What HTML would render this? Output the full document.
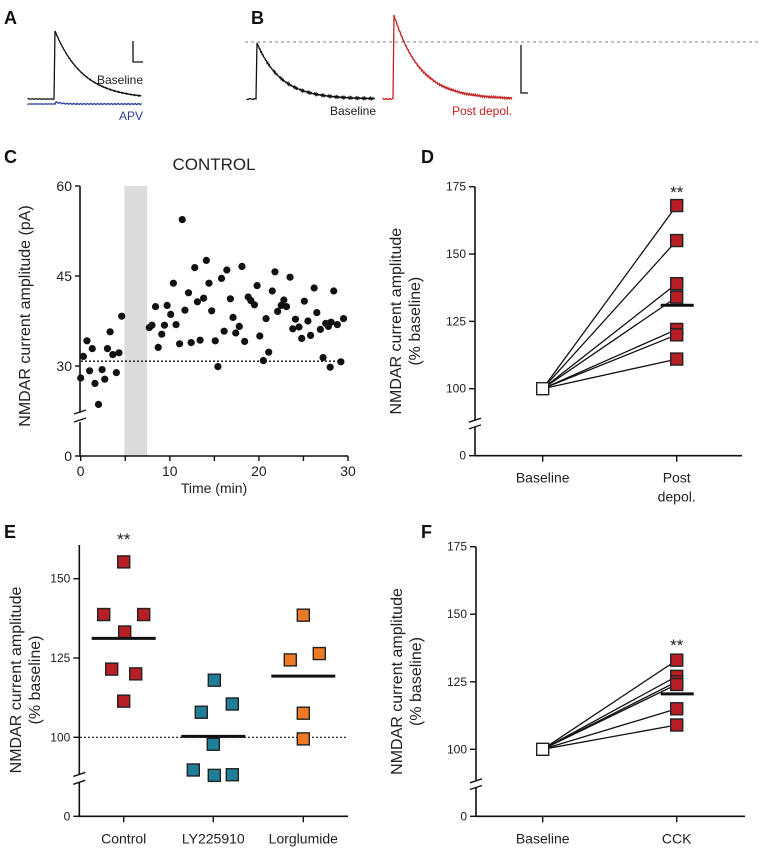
<!DOCTYPE html>
<html><head><meta charset="utf-8"><style>
body{margin:0;background:#fff;}
svg{display:block;font-family:"Liberation Sans",sans-serif;}
</style></head><body>
<svg id="fig" width="761" height="853" viewBox="0 0 761 853">
<g font-weight="bold" font-size="18" fill="#111">
<text x="4" y="24">A</text>
<text x="251" y="24">B</text>
<text x="4" y="163">C</text>
<text x="421" y="163">D</text>
<text x="4" y="538">E</text>
<text x="421" y="538">F</text>
</g>
<g id="traces"></g>
<g id="pc"></g>
<g id="pd"></g>
<g id="pe"></g>
<g id="pf"></g>
</svg>
<script>
// Panel C data
const cTimes=[0.0,0.3,0.7,1.0,1.3,1.6,2.0,2.4,2.7,3.0,3.3,3.6,4.0,4.3,4.6,7.7,8.0,8.4,8.7,9.1,9.4,9.7,10.1,10.4,10.7,11.1,11.4,11.7,12.1,12.4,12.8,13.1,13.4,13.8,14.1,14.4,14.7,15.1,15.4,15.8,16.1,16.4,16.8,17.1,17.4,17.8,18.1,18.4,18.8,19.1,19.5,19.8,20.1,20.5,20.8,21.1,21.5,21.8,22.1,22.5,22.8,23.1,23.5,23.8,24.1,24.5,24.8,25.1,25.5,25.8,26.2,26.5,26.9,27.2,27.5,27.8,28.0,28.1,28.4,28.8,29.2,29.5];
const cValues=[28.0,31.6,34.2,29.2,32.9,27.1,23.6,29.4,27.8,32.9,35.7,31.9,28.9,32.2,38.3,36.4,36.8,39.9,33.1,35.3,36.8,40.1,38.6,43.8,36.9,33.7,54.4,39.3,42.2,33.9,46.4,40.7,34.3,41.3,47.6,43.8,39.2,34.2,29.9,44.6,35.8,46.0,41.2,38.1,35.5,36.6,46.6,34.1,41.5,40.9,40.2,43.4,35.0,30.9,37.9,32.3,42.5,45.7,39.1,40.1,41.0,39.9,44.8,36.2,37.8,36.5,34.6,40.8,37.5,35.1,43.0,38.9,36.1,31.4,37.1,36.6,29.8,37.3,42.5,36.9,30.7,37.9];
const cBaseline=[30.8];
const cYTicks=[0,30,45,60];
const cXTicks=[0,5,10,15,20,25,30];
const cXLabels=[0,10,20,30];
// Panel D data
const dBaseline=[100];
const dPost=[168,155,139,134,122,120,111];
const dMean=[131];
// Panel E data
const eCategories=["Control","LY225910","Lorglumide"];
const eControl=[155.3,138.7,138.7,133.2,121.5,120,111.4];
const eLY=[118,107.9,110.5,97.8,89.7,88,88.2];
const eLorg=[138.5,124.4,126.4,107.6,99.5];
const eMeans=[131.2,100.3,119.3];
const eTicks=[0,100,125,150];
// Panel F data
const fBaseline=[100];
const fCCK=[133,127,125,124,115,109];
const fMean=[120.5];
const pctTicks=[0,100,125,150,175];

const NS="http://www.w3.org/2000/svg";
function mk(parent,tag,attrs,txt){const e=document.createElementNS(NS,tag);for(const k in attrs)e.setAttribute(k,attrs[k]);if(txt!==undefined)e.textContent=txt;parent.appendChild(e);return e;}
let p;

// ---------- traces ----------
const tr=document.getElementById('traces');
function tracePath(x0,xr,x1,yb,yp,tau,noise,seed){
 let d=`M${x0},${yb}`;
 for(let x=x0;x<xr;x+=1){d+=` L${x},${(yb+Math.sin(x*seed)*noise*0.5).toFixed(1)}`;}
 d+=` L${xr},${yp}`;
 for(let x=xr+1;x<=x1;x+=0.7){const t=x-xr;const y=yb-(yb-yp)*Math.exp(-t/tau)+Math.sin(x*seed*3.1)*noise;d+=` L${x.toFixed(1)},${y.toFixed(1)}`;}
 return d;
}
p=mk(tr,'path',{d:tracePath(28,55,142,99,31,28,0.4,1.7),fill:'none',stroke:'#111','stroke-width':1.3});

p=mk(tr,'path',{d:tracePath(28,56,142,104,102,6,0.5,2.3),fill:'none',stroke:'#2b3fa0','stroke-width':1.3});

p=mk(tr,'path',{d:'M133,41 V62 H143',fill:'none',stroke:'#111','stroke-width':1.3});

p=mk(tr,'text',{x:143,y:84,'text-anchor':'end','font-size':12,fill:'#222'},'Baseline');

p=mk(tr,'text',{x:143,y:120,'text-anchor':'end','font-size':12,fill:'#2b3fa0'},'APV');

p=mk(tr,'line',{x1:245,y1:42,x2:760,y2:42,stroke:'#999','stroke-width':1.3,'stroke-dasharray':'3,3'});

p=mk(tr,'path',{d:tracePath(247,257,375,99,43,24,0.9,1.3),fill:'none',stroke:'#111','stroke-width':1.3});

p=mk(tr,'path',{d:tracePath(383,394,512,99,15,26,0.9,1.9),fill:'none',stroke:'#c0221f','stroke-width':1.3});

p=mk(tr,'path',{d:'M521,45 V93 H528',fill:'none',stroke:'#111','stroke-width':1.3});

p=mk(tr,'text',{x:376,y:115,'text-anchor':'end','font-size':12,fill:'#222'},'Baseline');

p=mk(tr,'text',{x:512,y:115,'text-anchor':'end','font-size':12,fill:'#c0221f'},'Post depol.');


// ---------- Panel C ----------
const pc=document.getElementById('pc');
const cx=t=>80.7+t*8.91;
function cyf(v){return v===0?456:366-(v-30)*6;}
p=mk(pc,'rect',{x:cx(4.9),y:186,width:cx(7.45)-cx(4.9),height:270,fill:'#dcdcdc'});

p=mk(pc,'path',{d:'M80,186 V413 M80,422 V456 H348',fill:'none',stroke:'#111','stroke-width':1.6});

p=mk(pc,'path',{d:'M74,414 L86,410 M74,422 L86,418',stroke:'#111','stroke-width':1.4});

cYTicks.forEach(v=>{const y=cyf(v);
 p=mk(pc,'line',{x1:75,y1:y,x2:80,y2:y,stroke:'#111','stroke-width':1.4});
 
 p=mk(pc,'text',{x:72,y:y+5,'text-anchor':'end','font-size':14,fill:'#222'},v);
 });
cXTicks.forEach(v=>{p=mk(pc,'line',{x1:cx(v),y1:456,x2:cx(v),y2:461,stroke:'#111','stroke-width':1.4});
 });
cXLabels.forEach(v=>{p=mk(pc,'text',{x:cx(v),y:476,'text-anchor':'middle','font-size':14,fill:'#222'},v);
 });
p=mk(pc,'text',{x:214,y:493,'text-anchor':'middle','font-size':14,fill:'#222'},'Time (min)');

p=mk(pc,'text',{x:214,y:170,'text-anchor':'middle','font-size':17,fill:'#222'},'CONTROL');

p=mk(pc,'text',{x:0,y:0,'text-anchor':'middle','font-size':16,fill:'#222',transform:'translate(30,316) rotate(-90)'},'NMDAR current amplitude (pA)');

p=mk(pc,'line',{x1:81,y1:cyf(cBaseline[0]),x2:345,y2:cyf(cBaseline[0]),stroke:'#111','stroke-width':1.3,'stroke-dasharray':'2,2'});

cTimes.forEach((t,i)=>{p=mk(pc,'circle',{cx:cx(t),cy:cyf(cValues[i]),r:3.6,fill:'#111'});
 });

// ---------- shared percent axis ----------
function pctAxis(g,ax,y0,y100,s,axTop,xEnd,pre){
 const y=v=>v===0?y0:y100-(v-100)*s;
 const b1=y100+(y0-y100)*0.47,b2=y100+(y0-y100)*0.57;
 p=mk(g,'path',{d:`M${ax},${axTop} V${b1} M${ax},${b2} V${y0} H${xEnd}`,fill:'none',stroke:'#111','stroke-width':1.6});
 
 p=mk(g,'path',{d:`M${ax-6},${b1+2} L${ax+6},${b1-2} M${ax-6},${b2+2} L${ax+6},${b2-2}`,stroke:'#111','stroke-width':1.4});
 
 return y;
}
function yTicks(g,ax,y,ticks,pre){ticks.forEach(v=>{const yy=y(v);
 p=mk(g,'line',{x1:ax-6,y1:yy,x2:ax,y2:yy,stroke:'#111','stroke-width':1.4});
 
 p=mk(g,'text',{x:ax-9,y:yy+4,'text-anchor':'end','font-size':12,fill:'#222'},v);
 });}
function yTitle(g,x,yc,pre){
 p=mk(g,'text',{x:0,y:0,'text-anchor':'middle','font-size':16,fill:'#222',transform:`translate(${x},${yc}) rotate(-90)`},'NMDAR current amplitude');
 
 p=mk(g,'text',{x:0,y:0,'text-anchor':'middle','font-size':16,fill:'#222',transform:`translate(${x+19},${yc}) rotate(-90)`},'(% baseline)');
 }
function sq(g,x,y,fill,name){p=mk(g,'rect',{x:x-6,y:y-6,width:12,height:12,fill:fill,stroke:'#222','stroke-width':1.4});
 }
function xCat(g,x,y0,lines,pre){p=mk(g,'line',{x1:x,y1:y0,x2:x,y2:y0+6,stroke:'#111','stroke-width':1.4});
 
 lines.forEach((l,i)=>{p=mk(g,'text',{x:x,y:y0+27+i*19,'text-anchor':'middle','font-size':14,fill:'#222'},l);
 });}

function pairedPanel(g,pre,ax,y0,y100,yTop,xEnd,xb,xt,base,vals,mean,catLabel,starY){
 const y=pctAxis(g,ax,y0,y100,(y100-yTop)/75,yTop,xEnd,pre);
 yTicks(g,ax,y,pctTicks,pre);
 yTitle(g,ax-74,(yTop+y0)/2,pre);
 vals.forEach(v=>{p=mk(g,'line',{x1:xb,y1:y(base[0]),x2:xt,y2:y(v),stroke:'#111','stroke-width':1.3});
  });
 vals.forEach(v=>sq(g,xt,y(v),'#b81f24',pre+'-post-point'));
 sq(g,xb,y(base[0]),'#fff',pre+'-baseline-point');
 p=mk(g,'line',{x1:xt-16,y1:y(mean[0]),x2:xt+17,y2:y(mean[0]),stroke:'#111','stroke-width':3});
 
 p=mk(g,'text',{x:xt,y:starY,'text-anchor':'middle','font-size':17,fill:'#222'},'**');
 
 xCat(g,xb,y0,['Baseline'],pre);xCat(g,xt,y0,catLabel,pre);
}
pairedPanel(document.getElementById('pd'),'d',475,455.7,388.7,186.7,742,542.7,676.7,dBaseline,dPost,dMean,['Post','depol.'],198);
pairedPanel(document.getElementById('pf'),'f',476,816.3,749.3,546.7,745,542.7,676.7,fBaseline,fCCK,fMean,['CCK'],651);

// ---------- Panel E ----------
const pe=document.getElementById('pe');
const ey=pctAxis(pe,79.3,816.3,737.3,79.3/25,545,348,'e');
yTicks(pe,79.3,ey,eTicks,'e');
yTitle(pe,21,680,'e');
p=mk(pe,'line',{x1:80,y1:ey(100),x2:347,y2:ey(100),stroke:'#111','stroke-width':1.2,'stroke-dasharray':'2,2'});

const eX=[123.7,213.3,303.3];
const eOff=[[0,-20,20,1,-12,12,0],[1,-12,19,0,-20,1,19],[0,-13,16,0,0]];
const eSeries=[eControl,eLY,eLorg];
const eColors=['#b81f24','#1f7f99','#f07a24'];
eSeries.forEach((vals,ci)=>{
 vals.forEach((v,i)=>sq(pe,eX[ci]+eOff[ci][i],ey(v),eColors[ci],'e-point-'+eCategories[ci].toLowerCase()));
 p=mk(pe,'line',{x1:eX[ci]-32,y1:ey(eMeans[ci]),x2:eX[ci]+32,y2:ey(eMeans[ci]),stroke:'#111','stroke-width':3});
 
 xCat(pe,eX[ci],816.3,[eCategories[ci]],'e');
});
p=mk(pe,'text',{x:eX[0],y:545,'text-anchor':'middle','font-size':17,fill:'#222'},'**');

</script>
</body></html>
